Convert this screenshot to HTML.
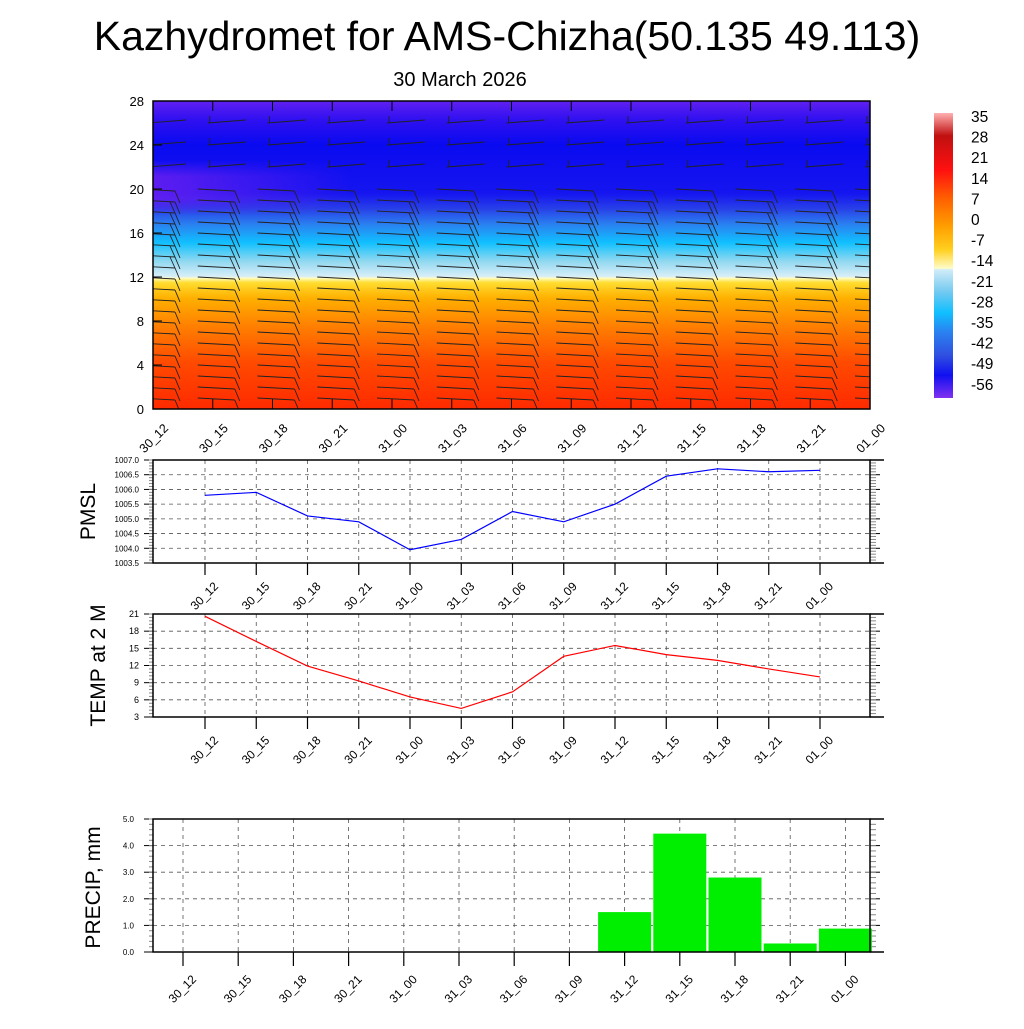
<!DOCTYPE html>
<html><head><meta charset="utf-8"><style>
body{margin:0;background:#fff;}
svg text{font-family:"Liberation Sans",sans-serif;}
</style></head><body>
<svg id="c" width="1024" height="1024" xmlns="http://www.w3.org/2000/svg">
<defs>
<linearGradient id="tg" x1="0" y1="1" x2="0" y2="0">
<stop offset="0" stop-color="#ff2a00"/>
<stop offset="0.15" stop-color="#ff4a00"/>
<stop offset="0.27" stop-color="#ff8000"/>
<stop offset="0.36" stop-color="#ffb000"/>
<stop offset="0.41" stop-color="#ffdd30"/>
<stop offset="0.425" stop-color="#fffcc0"/>
<stop offset="0.43" stop-color="#d8eef8"/>
<stop offset="0.48" stop-color="#90d8f0"/>
<stop offset="0.54" stop-color="#10c0ff"/>
<stop offset="0.6" stop-color="#2a80f0"/>
<stop offset="0.65" stop-color="#2840e8"/>
<stop offset="0.7" stop-color="#1515f0"/>
<stop offset="0.86" stop-color="#0a0af0"/>
<stop offset="0.94" stop-color="#3010f0"/>
<stop offset="1" stop-color="#6020f0"/>
</linearGradient>
<linearGradient id="cb" x1="0" y1="0" x2="0" y2="1">
<stop offset="0" stop-color="#ffb0b0"/>
<stop offset="0.08" stop-color="#c01010"/>
<stop offset="0.2" stop-color="#ff1010"/>
<stop offset="0.3" stop-color="#ff6000"/>
<stop offset="0.4" stop-color="#ffa000"/>
<stop offset="0.48" stop-color="#ffd020"/>
<stop offset="0.545" stop-color="#fffcc8"/>
<stop offset="0.55" stop-color="#d0ecf8"/>
<stop offset="0.63" stop-color="#70c8f0"/>
<stop offset="0.7" stop-color="#10c0ff"/>
<stop offset="0.77" stop-color="#2a80f0"/>
<stop offset="0.85" stop-color="#3050e0"/>
<stop offset="0.92" stop-color="#1010f0"/>
<stop offset="1" stop-color="#8030f0"/>
</linearGradient>
<linearGradient id="purp" x1="0" y1="0" x2="1" y2="0">
<stop offset="0" stop-color="#7020f0" stop-opacity="0.8"/>
<stop offset="0.5" stop-color="#7020f0" stop-opacity="0"/>
</linearGradient>
<linearGradient id="purpv" x1="0" y1="0" x2="0" y2="1">
<stop offset="0" stop-color="#fff" stop-opacity="0"/>
<stop offset="0.3" stop-color="#fff" stop-opacity="1"/>
<stop offset="0.7" stop-color="#fff" stop-opacity="1"/>
<stop offset="1" stop-color="#fff" stop-opacity="0"/>
</linearGradient>
<mask id="pm"><rect x="153" y="160" width="400" height="55" fill="url(#purpv)"/></mask>
</defs>
<text x="507" y="50" font-size="41" text-anchor="middle">Kazhydromet for AMS-Chizha(50.135 49.113)</text>
<text x="460" y="86" font-size="20" text-anchor="middle">30 March 2026</text>
<g id="topg">
<rect x="153" y="101" width="717" height="308" fill="url(#tg)"/>
<rect x="153" y="160" width="400" height="55" fill="url(#purp)" mask="url(#pm)"/>
<g id="barbs"></g>
<rect x="153" y="101" width="717" height="308" fill="none" stroke="#000" stroke-width="1.5"/>
</g>
<rect x="934" y="113" width="19" height="285" fill="url(#cb)"/>
<g id="cbl"></g>
<g id="lines"></g>
</svg>
<script>
const cats=["30_12","30_15","30_18","30_21","31_00","31_03","31_06","31_09","31_12","31_15","31_18","31_21","01_00"];
const pmsl=[1005.8,1005.9,1005.1,1004.9,1003.95,1004.3,1005.25,1004.9,1005.5,1006.45,1006.7,1006.6,1006.65];
const temp=[20.6,16.2,11.9,9.3,6.5,4.5,7.4,13.6,15.5,13.9,12.9,11.4,10.0];
const precip=[0,0,0,0,0,0,0,0,1.5,4.45,2.8,0.32,0.88];
const pmslTicks=[1003.5,1004.0,1004.5,1005.0,1005.5,1006.0,1006.5,1007.0];
const tempTicks=[3,6,9,12,15,18,21];
const precipTicks=[0,1,2,3,4,5];
const heightTicks=[0,4,8,12,16,20,24,28];
const cbLabels=[35,28,21,14,7,0,-7,-14,-21,-28,-35,-42,-49,-56];
const NS="http://www.w3.org/2000/svg";
const svgEl=document.getElementById('c');
function mk(t,a,p){const e=document.createElementNS(NS,t);for(const k in a)e.setAttribute(k,a[k]);(p||svgEl).appendChild(e);return e;}
const topG=document.getElementById('topg');
const hy=v=>409-v/28*308;
heightTicks.forEach(v=>{
 const t=mk('text',{x:144,y:hy(v)+5,'font-size':13,'text-anchor':'end'},topG);t.textContent=v;
 
 
 mk('line',{x1:153,x2:162,y1:hy(v),y2:hy(v),stroke:'#000'},topG);
});
const tx=i=>153+i*59.75;
cats.forEach((c,i)=>{
 const x=tx(i);
 mk('line',{x1:x,x2:x,y1:101,y2:111,stroke:'#000'},topG);
 mk('line',{x1:x,x2:x,y1:399,y2:409,stroke:'#000'},topG);
 const t=mk('text',{transform:`translate(${x+16},${429}) rotate(-45)`,'font-size':12.5,'text-anchor':'end'},topG);t.textContent=c;
 
 
});
const bg=document.getElementById('barbs');
const clip=mk('clipPath',{id:'cp'});mk('rect',{x:153,y:101,width:717,height:308},clip);
bg.setAttribute('clip-path','url(#cp)');
for(let i=0;i<13;i++){for(let h=0;h<=28;h++){
 const x0=138+i*59.75,y=hy(h);
 const g=mk('g',{stroke:'#222','stroke-width':0.9,fill:'none'},bg);
 
 
 if(h>=21){if(h%2)continue;mk('line',{x1:x0+10,y1:y,x2:x0+48,y2:y-3},g);mk('line',{x1:x0+12,y1:y,x2:x0+12,y2:y-7},g);}
 else{mk('line',{x1:x0,y1:y,x2:x0+37,y2:y+2},g);mk('line',{x1:x0+37,y1:y+2,x2:x0+42,y2:y+14},g);if(h>=14&&h<=19)mk('line',{x1:x0+32,y1:y+2,x2:x0+37,y2:y+13},g);}
}}
const cbg=document.getElementById('cbl');
cbLabels.forEach((v,i)=>{const t=mk('text',{x:971,y:122+i*20.6,'font-size':15.5},cbg);t.textContent=v;
 
 });
const lg=document.getElementById('lines');
const lx=i=>205+i*51.25;
function panel(name,y0,y1,ticks,fmt,vals,col,label,labelY){
 const g=mk('g',{},lg);
 
 
 const mn=ticks[0],mx=ticks[ticks.length-1];
 const sy=v=>y1-(v-mn)/(mx-mn)*(y1-y0);
 ticks.forEach(v=>{
  mk('line',{x1:153,x2:870,y1:sy(v),y2:sy(v),stroke:'#555','stroke-dasharray':'4,4','stroke-width':0.8},g);
  mk('line',{x1:153,x2:144,y1:sy(v),y2:sy(v),stroke:'#000'},g);
  mk('line',{x1:870,x2:880,y1:sy(v),y2:sy(v),stroke:'#000'},g);
  const t=mk('text',{x:139,y:sy(v)+3,'font-size':fmt?8:9,'text-anchor':'end'},g);t.textContent=fmt?v.toFixed(1):v;
  
  
 });
 for(let k=0;k<(ticks.length-1)*5;k++){const yy=y0+k*(y1-y0)/((ticks.length-1)*5);mk('line',{x1:153,x2:149,y1:yy,y2:yy,stroke:'#888'},g);mk('line',{x1:870,x2:876,y1:yy,y2:yy,stroke:'#888'},g);}
 cats.forEach((c,i)=>{const x=lx(i);
  mk('line',{x1:x,x2:x,y1:y0,y2:y1,stroke:'#555','stroke-dasharray':'4,4','stroke-width':0.8},g);
  mk('line',{x1:x,x2:x,y1:y1,y2:y1+12,stroke:'#000','stroke-width':1.2},g);
  const t=mk('text',{transform:`translate(${x+14},${y1+24}) rotate(-45)`,'font-size':12,'text-anchor':'end'},g);t.textContent=c;
  
  
 });
 mk('rect',{x:153,y:y0,width:717,height:y1-y0,fill:'none',stroke:'#000','stroke-width':1.5},g);
 mk('line',{x1:870,x2:884,y1:y0,y2:y0,stroke:'#000','stroke-width':1.5},g);
 mk('line',{x1:870,x2:884,y1:y1,y2:y1,stroke:'#000','stroke-width':1.5},g);
 const p=mk('polyline',{points:vals.map((v,i)=>lx(i)+','+sy(v)).join(' '),fill:'none',stroke:col,'stroke-width':1.2},g);
 
 
 const t=mk('text',{transform:`translate(${labelY},${(y0+y1)/2}) rotate(-90)`,'font-size':21,'text-anchor':'middle'},g);t.textContent=label;
 
 
}
panel('pmsl',460,563,pmslTicks,true,pmsl,'#0000ff','PMSL',95);
panel('temp',614,717,tempTicks,false,temp,'#ff0000','TEMP at 2 M',105);
(function(){
 const g=mk('g',{},lg);
 
 
 const y0=819,y1=952;const sy=v=>y1-v/5*(y1-y0);const bx=i=>183+i*55.2;
 precipTicks.forEach(v=>{
  mk('line',{x1:153,x2:870,y1:sy(v),y2:sy(v),stroke:'#555','stroke-dasharray':'4,4','stroke-width':0.8},g);
  mk('line',{x1:153,x2:144,y1:sy(v),y2:sy(v),stroke:'#000'},g);
  mk('line',{x1:870,x2:880,y1:sy(v),y2:sy(v),stroke:'#000'},g);
  const t=mk('text',{x:134,y:sy(v)+3,'font-size':8,'text-anchor':'end'},g);t.textContent=v.toFixed(1);
  
  
 });
 for(let k=0;k<25;k++){const yy=y0+k*(y1-y0)/25;mk('line',{x1:153,x2:149,y1:yy,y2:yy,stroke:'#888'},g);mk('line',{x1:870,x2:876,y1:yy,y2:yy,stroke:'#888'},g);}
 cats.forEach((c,i)=>{const x=bx(i);
  mk('line',{x1:x,x2:x,y1:y0,y2:y1,stroke:'#555','stroke-dasharray':'4,4','stroke-width':0.8},g);
  mk('line',{x1:x,x2:x,y1:y1,y2:y1+14,stroke:'#000','stroke-width':1.2},g);
  const t=mk('text',{transform:`translate(${x+14},${y1+28}) rotate(-45)`,'font-size':12,'text-anchor':'end'},g);t.textContent=c;
  
  
 });
 precip.forEach((v,i)=>{if(v<=0)return;const r=mk('rect',{x:bx(i)-26.5,y:sy(v),width:53,height:y1-sy(v),fill:'#00ee00'},g);
  
  });
 mk('rect',{x:153,y:y0,width:717,height:y1-y0,fill:'none',stroke:'#000','stroke-width':1.5},g);
 mk('line',{x1:870,x2:884,y1:y0,y2:y0,stroke:'#000','stroke-width':1.5},g);
 mk('line',{x1:870,x2:884,y1:y1,y2:y1,stroke:'#000','stroke-width':1.5},g);
 const t=mk('text',{transform:`translate(100,${(y0+y1)/2+2}) rotate(-90)`,'font-size':21,'text-anchor':'middle'},g);t.textContent='PRECIP, mm';
 
 
})();
</script>
</body></html>
